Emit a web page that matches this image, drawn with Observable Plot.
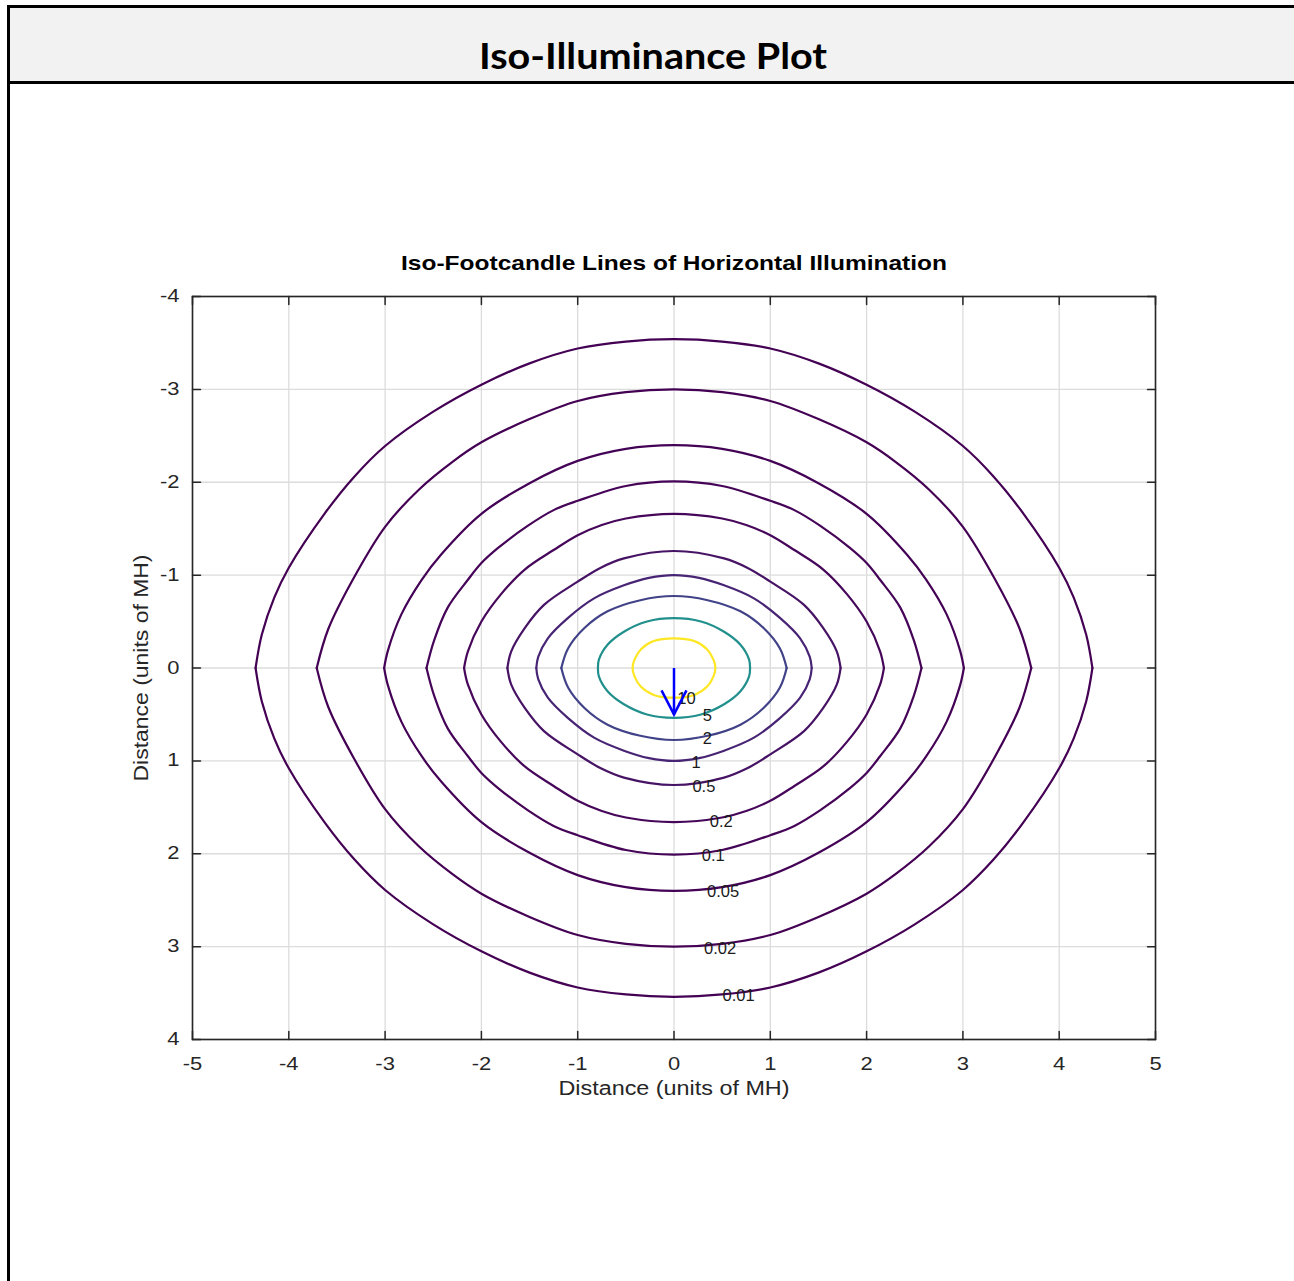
<!DOCTYPE html>
<html><head><meta charset="utf-8">
<script src="https://cdn.jsdelivr.net/npm/d3@7"></script>
<script src="https://cdn.jsdelivr.net/npm/@observablehq/plot@0.6"></script>
<style>
html,body{margin:0;padding:0;background:#fff;}
body{width:1294px;height:1281px;overflow:hidden;position:relative;}
#frame{position:absolute;left:7px;top:5px;width:1286px;height:1400px;border:3px solid #000;}
#header{position:absolute;left:10px;top:8px;width:1286px;height:73px;background:#f2f2f2;border-bottom:3px solid #000;}
#hdrsvg{position:absolute;left:0;top:0;}
#chart{position:absolute;left:10px;top:84px;}
</style></head>
<body>
<div id="frame"></div>
<div id="header"></div>
<svg id="hdrsvg" width="1294" height="90"><text x="653" y="68.5" text-anchor="middle" font-family="Lato, 'Open Sans', sans-serif" font-weight="bold" font-size="35.7" textLength="348" lengthAdjust="spacingAndGlyphs" fill="#000">Iso-Illuminance Plot</text></svg>
<div id="chart"></div>
<script>
// ---- data ----
const xTicks = [-5, -4, -3, -2, -1, 0, 1, 2, 3, 4, 5];
const yTicks = [-4, -3, -2, -1, 0, 1, 2, 3, 4];
const levels = [10, 5, 2, 1, 0.5, 0.2, 0.1, 0.05, 0.02, 0.01];
const levelLabels = ["10", "5", "2", "1", "0.5", "0.2", "0.1", "0.05", "0.02", "0.01"];
const labelX = [0.13, 0.345, 0.345, 0.23, 0.31, 0.49, 0.408, 0.51, 0.478, 0.67];
const labelY = [0.336, 0.517, 0.764, 1.025, 1.28, 1.65, 2.024, 2.41, 3.027, 3.53];

// quarter of each iso-line: [distance across, distance along] from the centre to the tip
const iso_10   = [[0,0.32],[0.21,0.29],[0.345,0.2],[0.41,0.09],[0.43,0]];
const iso_5    = [[0,0.536],[0.28,0.5],[0.52,0.39],[0.69,0.25],[0.78,0.09],[0.79,0]];
const iso_2    = [[0,0.775],[0.35,0.73],[0.69,0.61],[0.93,0.43],[1.1,0.21],[1.17,0]];
const iso_1    = [[0,1.0],[0.26,0.97],[0.52,0.89],[0.83,0.75],[1.1,0.54],[1.31,0.32],[1.41,0.12],[1.43,0]];
const iso_05   = [[0,1.26],[0.52,1.18],[0.76,1.08],[1.0,0.93],[1.35,0.68],[1.55,0.43],[1.69,0.18],[1.73,0]];
const iso_02   = [[0,1.66],[0.5,1.61],[0.75,1.54],[1.0,1.43],[1.25,1.27],[1.55,1.06],[1.8,0.79],[2.0,0.5],[2.14,0.18],[2.18,0]];
const iso_01   = [[0,2.01],[0.5,1.96],[1.0,1.8],[1.25,1.7],[1.52,1.53],[1.83,1.29],[2.0,1.13],[2.14,0.95],[2.35,0.65],[2.49,0.3],[2.57,0]];
const iso_005  = [[0,2.4],[0.5,2.36],[1.0,2.23],[1.5,1.99],[2.0,1.66],[2.42,1.22],[2.62,0.95],[2.83,0.58],[2.97,0.19],[3.01,0]];
const iso_002  = [[0,3.0],[0.5,2.97],[1.0,2.875],[1.5,2.68],[2.0,2.43],[2.3,2.22],[2.65,1.92],[3.0,1.52],[3.32,0.98],[3.59,0.42],[3.71,0]];
const iso_001  = [[0,3.54],[0.5,3.515],[1.0,3.44],[1.5,3.28],[2.0,3.05],[2.5,2.76],[3.0,2.39],[3.32,2.06],[3.63,1.66],[4.0,1.08],[4.15,0.76],[4.28,0.36],[4.345,0]];
const quadrants = [iso_10, iso_5, iso_2, iso_1, iso_05, iso_02, iso_01, iso_005, iso_002, iso_001];

const arrowFrom = [0, 0];
const arrowTo = [0, 0.5];

const chartTitle = "Iso-Footcandle Lines of Horizontal Illumination";
const xLabel = "Distance (units of MH)";
const yLabel = "Distance (units of MH)";

// ---- build line tables ----
const pointed = [], closed = [];
levels.forEach((lev, i) => {
  const q = quadrants[i];
  const upper = q.slice().reverse().map(([x, h]) => ({x: -x, y: -h}))
    .concat(q.slice(1).map(([x, h]) => ({x: x, y: -h})));
  const lower = upper.map(p => ({x: p.x, y: -p.y}));
  if (lev === 10) {
    upper.concat(lower.slice(1, -1).reverse()).forEach(p => closed.push({...p, level: lev, key: "c"}));
  } else {
    upper.forEach(p => pointed.push({...p, level: lev, key: lev + "u"}));
    lower.forEach(p => pointed.push({...p, level: lev, key: lev + "l"}));
  }
});
const arrowSeg = [{x1: arrowFrom[0], y1: arrowFrom[1], x2: arrowTo[0], y2: arrowTo[1]}];

const tickShape = {draw(ctx, l) { ctx.moveTo(0, 0); ctx.lineTo(0, -l); }};
const chevron = {draw(ctx, size) { const r = Math.sqrt(size / Math.PI); ctx.moveTo(-0.52 * r, -r); ctx.lineTo(0, 0); ctx.lineTo(0.52 * r, -r); }};
const tickStyle = {length: 8, anchor: "start", shape: tickShape, stroke: "#262626", strokeWidth: 1.5};

const chart = Plot.plot({
  width: 1284, height: 1197,
  marginLeft: 182, marginRight: 139, marginTop: 212, marginBottom: 242,
  style: "background: transparent; font-family: 'Liberation Sans', Arial, Helvetica, sans-serif; font-size: 17px; color: #262626; overflow: visible;",
  x: {domain: [-5, 5], ticks: xTicks, tickSize: 0, tickPadding: 18, tickFormat: d => String(d), label: null},
  y: {domain: [-4, 4], reverse: true, ticks: yTicks, tickSize: 0, tickPadding: 13, tickFormat: d => String(d), label: null},
  color: {type: "linear", domain: [0.01, 10], scheme: "viridis"},
  marks: [
    Plot.ruleX(xTicks, {x: d => d, stroke: "#dcdcdc", strokeWidth: 1.3}),
    Plot.ruleY(yTicks, {y: d => d, stroke: "#dcdcdc", strokeWidth: 1.3}),
    Plot.line(pointed, {x: "x", y: "y", z: "key", stroke: "level", strokeWidth: 2.2, curve: "catmull-rom"}),
    Plot.line(closed, {x: "x", y: "y", z: "key", stroke: "level", strokeWidth: 2.2, curve: "catmull-rom-closed"}),
    Plot.text(levelLabels, {x: (d, i) => labelX[i], y: (d, i) => labelY[i], text: d => d, fontSize: 16.5, fill: "#1a1a1a"}),
    Plot.link(arrowSeg, {x1: "x1", y1: "y1", x2: "x2", y2: "y2", stroke: "#0000ff", strokeWidth: 2.5}),
    Plot.dot(arrowSeg, {x: "x2", y: "y2", symbol: chevron, r: 24, stroke: "#0000ff", fill: "none", strokeWidth: 2.5}),
    Plot.frame({stroke: "#262626", strokeWidth: 1.6}),
    Plot.vector(xTicks, {x: d => d, frameAnchor: "bottom", rotate: 0, ...tickStyle}),
    Plot.vector(xTicks, {x: d => d, frameAnchor: "top", rotate: 180, ...tickStyle}),
    Plot.vector(yTicks, {y: d => d, frameAnchor: "left", rotate: 90, ...tickStyle}),
    Plot.vector(yTicks, {y: d => d, frameAnchor: "right", rotate: -90, ...tickStyle}),
    Plot.text([chartTitle], {frameAnchor: "top", dy: -33, lineAnchor: "middle", textAnchor: "middle", text: d => d, fontWeight: "bold", fontSize: 21, fill: "#000"}),
    Plot.text([xLabel], {frameAnchor: "bottom", dy: 49, lineAnchor: "middle", textAnchor: "middle", text: d => d, fontSize: 20, fill: "#262626"}),
    Plot.text([yLabel], {frameAnchor: "left", dx: -51, rotate: -90, lineAnchor: "middle", textAnchor: "middle", text: d => d, fontSize: 20, fill: "#262626"})
  ]
});
document.getElementById("chart").append(chart);

// widen the text like the reference's font
chart.querySelectorAll('[aria-label*="tick label"] text').forEach(t => {
  t.style.fontSize = "17.5px";
  const w = t.getComputedTextLength();
  t.setAttribute("textLength", (w * 1.25).toFixed(1));
  t.setAttribute("lengthAdjust", "spacingAndGlyphs");
});
chart.querySelectorAll("text").forEach(t => {
  const s = t.textContent;
  if (s === chartTitle) { t.setAttribute("textLength", 546); t.setAttribute("lengthAdjust", "spacingAndGlyphs"); }
  else if (s === xLabel) {
    const rot = (t.getAttribute("transform") || "").includes("rotate") || (t.parentNode.getAttribute("transform") || "").includes("rotate");
    t.setAttribute("textLength", rot ? 227 : 231); t.setAttribute("lengthAdjust", "spacingAndGlyphs");
  }
});
</script>
</body></html>
